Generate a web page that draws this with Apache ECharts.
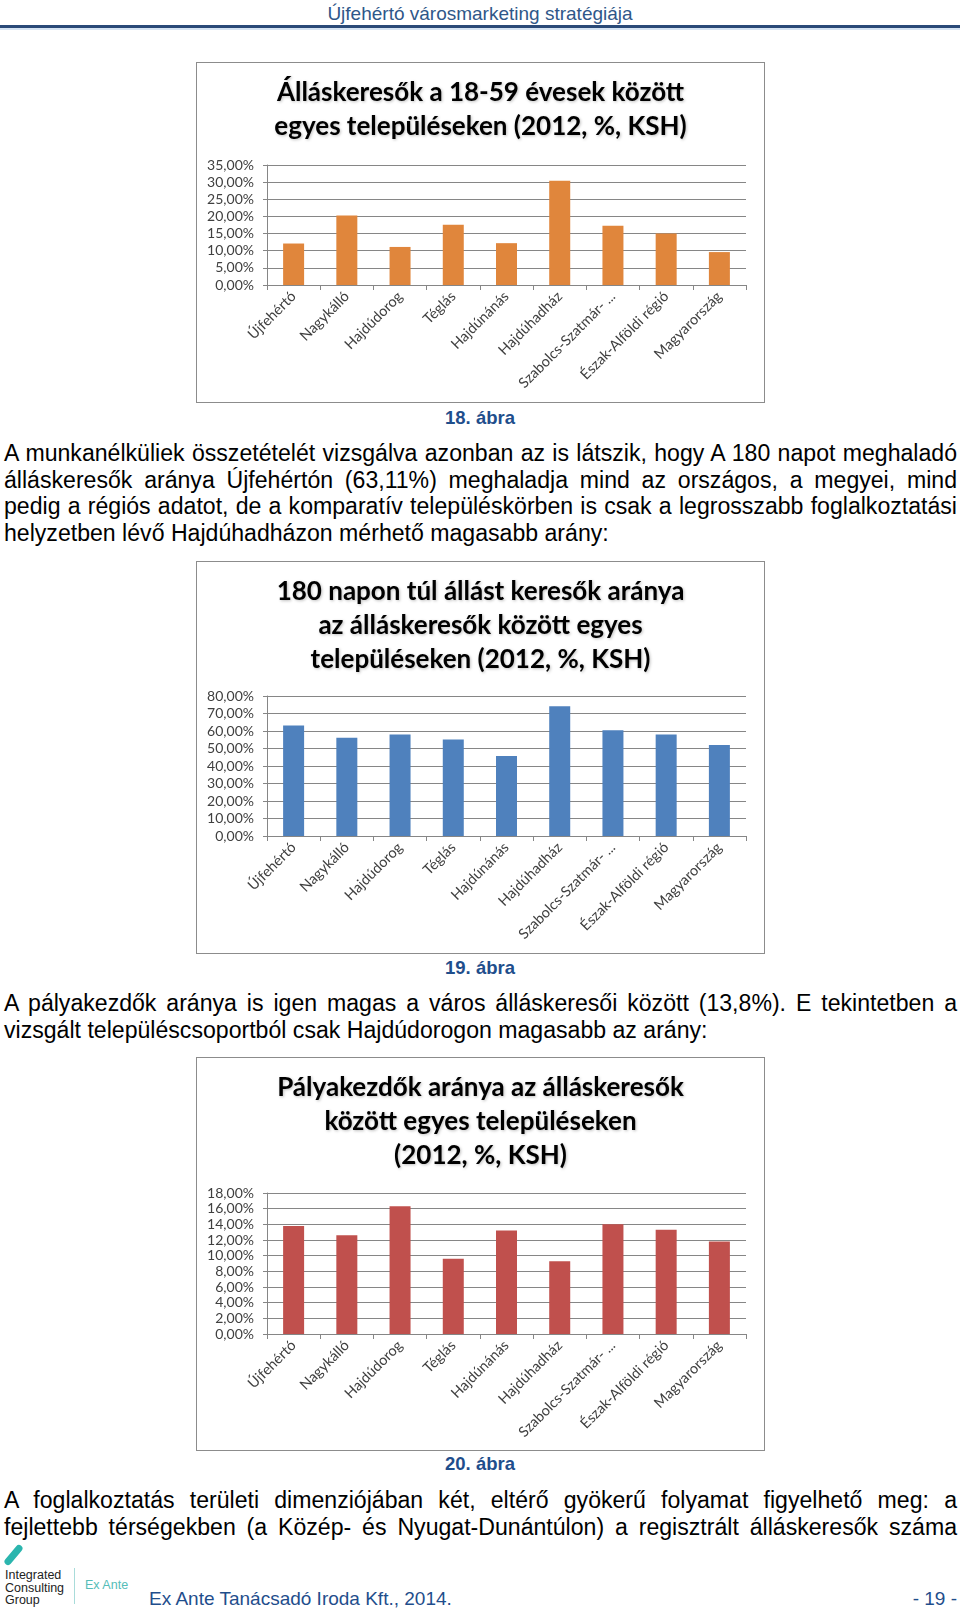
<!DOCTYPE html>
<html><head><meta charset="utf-8">
<script src="https://cdn.jsdelivr.net/npm/echarts@6/dist/echarts.min.js"></script>
<style>
html,body{margin:0;padding:0;background:#fff;}
body{width:960px;height:1612px;position:relative;overflow:hidden;font-family:"Liberation Sans",Arial,sans-serif;}
.abs{position:absolute;}
.hdr{left:0;width:960px;top:3px;text-align:center;font-family:"Liberation Sans Narrow","Liberation Sans",sans-serif;font-size:19px;color:#2f5789;line-height:22px;}
.hline{left:0;width:960px;top:25px;height:3px;background:#2a4a78;}
.hline2{left:0;width:960px;top:28px;height:2px;background:#d6e4f3;}
.frame{border:1px solid #8c8c8c;box-sizing:border-box;background:#fff;}
.cap{left:0;width:960px;text-align:center;font-weight:bold;color:#1f4e8c;font-size:18.5px;line-height:22px;}
.para{left:4px;width:953px;font-size:23.1px;line-height:26.6px;color:#000;}
.para div{text-align:justify;text-align-last:justify;white-space:normal;}
.para div.last{text-align:left;text-align-last:left;}
.foot{font-family:"Liberation Sans Narrow","Liberation Sans",sans-serif;color:#1f4e8c;font-size:19px;line-height:24px;}
.logo{font-family:"Liberation Sans Narrow","Liberation Sans",sans-serif;font-size:12.5px;line-height:12.5px;color:#222;}
</style></head>
<body>
<div class="abs hdr">Újfehértó városmarketing stratégiája</div>
<div class="abs hline"></div>
<div class="abs hline2"></div>

<div id="c1" class="abs frame" style="left:196px;top:62px;width:569px;height:341px;"></div>
<div class="abs cap" style="top:407px;">18. ábra</div>
<div class="abs para" style="top:440px;">
<div>A munkanélküliek összetételét vizsgálva azonban az is látszik, hogy A 180 napot meghaladó</div>
<div>álláskeresők aránya Újfehértón (63,11%) meghaladja mind az országos, a megyei, mind</div>
<div>pedig a régiós adatot, de a komparatív településkörben is csak a legrosszabb foglalkoztatási</div>
<div class="last">helyzetben lévő Hajdúhadházon mérhető magasabb arány:</div>
</div>

<div id="c2" class="abs frame" style="left:196px;top:561px;width:569px;height:393px;"></div>
<div class="abs cap" style="top:957px;">19. ábra</div>
<div class="abs para" style="top:990px;">
<div>A pályakezdők aránya is igen magas a város álláskeresői között (13,8%). E tekintetben a</div>
<div class="last">vizsgált településcsoportból csak Hajdúdorogon magasabb az arány:</div>
</div>

<div id="c3" class="abs frame" style="left:196px;top:1057px;width:569px;height:394px;"></div>
<div class="abs cap" style="top:1453px;">20. ábra</div>
<div class="abs para" style="top:1487px;">
<div>A foglalkoztatás területi dimenziójában két, eltérő gyökerű folyamat figyelhető meg: a</div>
<div>fejlettebb térségekben (a Közép- és Nyugat-Dunántúlon) a regisztrált álláskeresők száma</div>
</div>

<div class="abs" style="left:10px;top:1543px;width:7px;height:24px;background:#2bb5ae;border-radius:4px;transform:rotate(40deg);"></div>
<div class="abs logo" style="left:5px;top:1569px;">Integrated<br>Consulting<br>Group</div>
<div class="abs" style="left:74px;top:1568px;width:1px;height:36px;background:#a9dcda;"></div>
<div class="abs logo" style="left:85px;top:1579px;color:#55bdb8;">Ex Ante</div>
<div class="abs foot" style="left:149px;top:1587px;">Ex Ante Tanácsadó Iroda Kft., 2014.</div>
<div class="abs foot" style="right:3px;top:1587px;">- 19 -</div>

<script>
const categories = ['Újfehértó','Nagykálló','Hajdúdorog','Téglás','Hajdúnánás','Hajdúhadház','Szabolcs-Szatmár- ...','Észak-Alföldi régió','Magyarország'];
const jobSeekers18to59 = [12.1, 20.3, 11.1, 17.6, 12.2, 30.4, 17.3, 15.0, 9.6];
const over180DaysShare = [63.11, 56.1, 58.0, 55.2, 45.7, 74.1, 60.5, 58.0, 52.0];
const careerStarterShare = [13.8, 12.6, 16.3, 9.6, 13.2, 9.3, 14.0, 13.3, 11.8];

const title1 = 'Álláskeresők a 18-59 évesek között\negyes településeken (2012, %, KSH)';
const title2 = '180 napon túl állást keresők aránya\naz álláskeresők között egyes\ntelepüléseken (2012, %, KSH)';
const title3 = 'Pályakezdők aránya az álláskeresők\nközött egyes településeken\n(2012, %, KSH)';

function pct(v){ return v.toFixed(2).replace('.', ',') + '%'; }

function makeChart(id, title, data, maxV, step, color, gridTop, gridBottom){
  const ch = echarts.init(document.getElementById(id), null, {renderer:'canvas'});
  ch.setOption({
    animation:false,
    title:{
      text:title, left:'center', top:8,
      textStyle:{fontFamily:'Lato', fontWeight:'bold', fontSize:26, lineHeight:34, color:'#000',
        textShadowColor:'rgba(0,0,0,0.25)', textShadowBlur:3, textShadowOffsetX:1, textShadowOffsetY:1}
    },
    grid:{left:70, right:18, top:gridTop, bottom:gridBottom, containLabel:false},
    xAxis:{
      type:'category', data:categories,
      axisLine:{show:true, lineStyle:{color:'#868686', width:1}},
      axisTick:{show:true, length:5, lineStyle:{color:'#868686'}},
      axisLabel:{rotate:45, margin:9, interval:0, fontFamily:'Lato', fontSize:14.5, color:'#404040'}
    },
    yAxis:{
      type:'value', min:0, max:maxV, interval:step,
      axisLine:{show:true, lineStyle:{color:'#868686'}},
      axisTick:{show:true, length:4, lineStyle:{color:'#868686'}},
      splitLine:{show:true, lineStyle:{color:'#868686', width:1}},
      axisLabel:{formatter:pct, margin:13, fontFamily:'Lato', fontSize:14, color:'#404040'}
    },
    series:[{type:'bar', data:data, barWidth:21, itemStyle:{color:color}}]
  });
}
makeChart('c1', title1, jobSeekers18to59, 35, 5, '#e0863c', 102, 117);
makeChart('c2', title2, over180DaysShare, 80, 10, '#4f81bd', 134, 117);
makeChart('c3', title3, careerStarterShare, 18, 2, '#c0504d', 135, 116);
</script>
</body></html>
